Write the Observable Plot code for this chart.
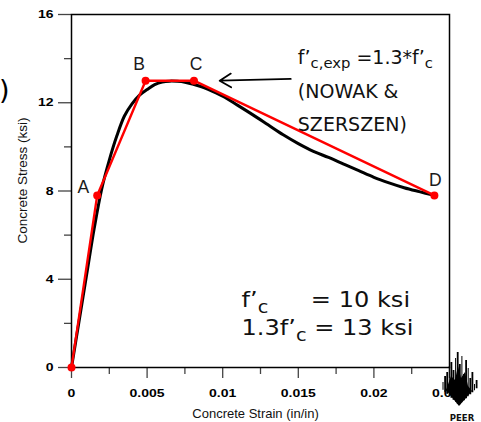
<!DOCTYPE html>
<html>
<head>
<meta charset="utf-8">
<script src="https://cdn.jsdelivr.net/npm/d3@7"></script>
<script src="https://cdn.jsdelivr.net/npm/@observablehq/plot@0.6"></script>
<style>
  body { margin: 0; background: #fff; }
  #chart svg { display: block; }
</style>
</head>
<body>
<div id="chart"></div>
<script>
// Stress–strain curve of confined concrete (ksi vs in/in)
const curveStrain = [0, 0.0005, 0.001, 0.0015, 0.002, 0.0025, 0.003, 0.0035, 0.004, 0.0045,
  0.005, 0.0055, 0.006, 0.0065, 0.007, 0.0075, 0.008, 0.0085, 0.009, 0.010, 0.011, 0.012,
  0.013, 0.014, 0.015, 0.016, 0.017, 0.018, 0.019, 0.020, 0.021, 0.022, 0.023, 0.024];
const curveStress = [0, 2.1, 4.2, 6.3, 8.1, 9.4, 10.5, 11.4, 11.95, 12.35,
  12.6, 12.82, 12.94, 12.98, 12.97, 12.93, 12.85, 12.75, 12.62, 12.3, 11.88, 11.45,
  11.0, 10.55, 10.15, 9.8, 9.52, 9.22, 8.92, 8.62, 8.37, 8.15, 7.97, 7.8];

// Multilinear approximation with its corner points
const pointNames = ["", "A", "B", "C", "D"];
const pointStrain = [0, 0.0017, 0.0049, 0.0081, 0.0240];
const pointStress = [0, 7.8, 13.0, 13.0, 7.8];

// Axes
const xMajorTicks = [0, 0.005, 0.01, 0.015, 0.02, 0.025];
const xTickLabels = ["0", "0.005", "0.01", "0.015", "0.02", "0.025"];
const xMinorTicks = [0.0025, 0.0075, 0.0125, 0.0175, 0.0225];
const yMajorTicks = [0, 4, 8, 12, 16];
const yMinorTicks = [2, 6, 10, 14];
const xTitle = "Concrete Strain (in/in)";
const yTitle = "Concrete Stress (ksi)";

// Strengths
const fc = 10;      // ksi
const fcExp = 13;   // ksi (1.3 f'c)

// Annotation anchors, in data units
const arrowFrom = [0.0145, 13.08];
const arrowTo = [0.0098, 13.0];
const noteAnchor = [0.0150, 13.72];
const strengthAnchor = [0.01128, 2.73];

const curve = curveStrain.map((s, i) => ({strain: s, stress: curveStress[i]}));
const points = pointStrain.map((s, i) => ({name: pointNames[i], strain: s, stress: pointStress[i]}));
const named = (n) => points.filter((p) => p.name === n);

const letterStyle = {x: "strain", y: "stress", text: "name", fontSize: 17.5, fill: "#1a1a1a", ariaLabel: "point-label"};

const plot = Plot.plot({
  width: 481,
  height: 422,
  marginLeft: 71,
  marginRight: 32,
  marginTop: 14,
  marginBottom: 55,
  style: {background: "#fff", fontFamily: "'Liberation Sans', Arial, sans-serif", overflow: "visible"},
  x: {domain: [0, 0.025]},
  y: {domain: [0, 16]},
  marks: [
    Plot.axisX(xMinorTicks, {tickSize: 7, tickFormat: () => "", stroke: "#444", strokeWidth: 1.3}),
    Plot.axisX(xMajorTicks, {
      tickSize: 11, tickPadding: 10, stroke: "#444", strokeWidth: 1.3, fill: "#000",
      tickFormat: (d) => xTickLabels[xMajorTicks.indexOf(d)],
      fontSize: 11.5, fontWeight: "bold", label: null
    }),
    Plot.axisY(yMinorTicks, {tickSize: 7, tickFormat: () => "", stroke: "#444", strokeWidth: 1.3}),
    Plot.axisY(yMajorTicks, {
      tickSize: 13, tickPadding: 5, stroke: "#444", strokeWidth: 1.3, fill: "#000",
      tickFormat: (d) => String(d), fontSize: 11.5, fontWeight: "bold", label: null
    }),
    Plot.frame({stroke: "#000", strokeWidth: 1.5}),
    Plot.line(curve, {x: "strain", y: "stress", stroke: "#000", strokeWidth: 3, curve: "catmull-rom"}),
    Plot.line(points, {x: "strain", y: "stress", stroke: "#ff0000", strokeWidth: 2.4}),
    Plot.dot(points, {x: "strain", y: "stress", fill: "#ff0000", r: 4}),
    Plot.text(named("A"), {...letterStyle, textAnchor: "end", dx: -8, dy: -8}),
    Plot.text(named("B"), {...letterStyle, dx: -6.5, dy: -16}),
    Plot.text(named("C"), {...letterStyle, dx: 2, dy: -16}),
    Plot.text(named("D"), {...letterStyle, dx: 1, dy: -15}),
    Plot.arrow([{x1: arrowFrom[0], y1: arrowFrom[1], x2: arrowTo[0], y2: arrowTo[1]}], {
      x1: "x1", y1: "y1", x2: "x2", y2: "y2", stroke: "#000", strokeWidth: 1.8, headLength: 11, headAngle: 62
    }),
    Plot.text([xTitle], {frameAnchor: "bottom", textAnchor: "middle", lineAnchor: "bottom", dx: -5, dy: 50, fontSize: 13, fill: "#111", ariaLabel: "x-title"}),
    Plot.text([yTitle], {frameAnchor: "left", textAnchor: "middle", lineAnchor: "bottom", rotate: -90, dx: -44.5, dy: -10.5, fontSize: 13.5, fill: "#111", ariaLabel: "y-title"})
  ]
});

document.getElementById("chart").append(plot);

// Widen glyphs horizontally (along the reading direction)
function widen(selection, k) {
  selection.each(function () {
    const t = this.getAttribute("transform") || "";
    const xAttr = this.getAttribute("x");
    let extra = "";
    if (xAttr && !isNaN(+xAttr)) { extra = ` translate(${+xAttr},0)`; this.removeAttribute("x"); }
    this.setAttribute("transform", `${t}${extra} scale(${k},1)`);
  });
}
const svg = d3.select(plot);
widen(svg.selectAll('g[aria-label="x-axis tick label"] text'), 1.22);
widen(svg.selectAll('g[aria-label="y-axis tick label"] text'), 1.22);
widen(svg.selectAll('g[aria-label="x-title"] text'), 1.2);
widen(svg.selectAll('g[aria-label="y-title"] text'), 1.08);
widen(svg.selectAll('g[aria-label="point-label"] text'), 1.1);

// Rich text (subscripts) placed through the chart's scales
const sx = plot.scale("x"), sy = plot.scale("y");
function richText(parent, px, py, parts, size, subScale, subShift, k = 1) {
  const t = parent.append("text")
    .attr("transform", `translate(${px},${py}) scale(${k},1)`)
    .attr("text-anchor", "start")
    .attr("font-family", "'DejaVu Sans', Verdana, sans-serif")
    .attr("font-size", size)
    .attr("fill", "#111");
  let shift = 0;
  parts.forEach(([str, sub, atX]) => {
    const target = sub ? subShift : 0;
    const ts = t.append("tspan")
      .attr("font-size", sub ? size * subScale : size)
      .attr("dy", target - shift)
      .text(str);
    if (atX !== undefined) ts.attr("x", atX);
    shift = target;
  });
  return t;
}

const notes = svg.append("g").attr("aria-label", "annotations").attr("text-anchor", "start");
const nx = sx.apply(noteAnchor[0]), ny = sy.apply(noteAnchor[1]);
richText(notes, nx, ny, [["f’"], ["c,exp", true], [" =1.3*f’"], ["c", true]], 19, 0.78, 4);
richText(notes, nx, ny + 33.5, [["(NOWAK &"]], 19, 0.78, 4);
richText(notes, nx, ny + 67, [["SZERSZEN)"]], 19, 0.78, 4);

const bx = sx.apply(strengthAnchor[0]), by = sy.apply(strengthAnchor[1]);
const line2 = richText(notes, bx, by + 28.3, [["1.3f’"], ["c", true], [` = ${fcExp} ksi`]], 21.5, 0.8, 6, 1.12);
const eqX = line2.node().getStartPositionOfChar(7).x;
richText(notes, bx, by, [["f’"], ["c", true], [`= ${fc} ksi`, false, eqX - 3]], 21.5, 0.8, 6, 1.12);

// Edge of a bracket from the surrounding page
svg.append("text")
  .attr("transform", "translate(-1,99)")
  .attr("text-anchor", "start")
  .attr("font-family", "'DejaVu Sans', sans-serif")
  .attr("font-size", 27)
  .attr("fill", "#000")
  .text(")");

// PEER logo
const logo = svg.append("g").attr("aria-label", "PEER logo");
const strokeTops = [382, 376, 372, 366, 362, 370, 358, 352, 364, 356, 374, 360, 368, 378, 372, 384, 380];
strokeTops.forEach((top, i) => {
  const x = 443 + i * 2.1;
  const bottom = 405 - Math.abs(x - 459) * 0.95;
  logo.append("line").attr("x1", x).attr("x2", x).attr("y1", top).attr("y2", bottom)
    .attr("stroke", "#000").attr("stroke-width", i % 3 === 0 ? 1 : 1.8);
});
logo.append("path")
  .attr("d", "M446,390 L451,376 L455,380 L458,366 L461,378 L465,372 L468,386 L472,391 L459,406 Z")
  .attr("fill", "#000");
logo.append("text")
  .attr("x", 462).attr("y", 421)
  .attr("text-anchor", "middle")
  .attr("font-family", "'DejaVu Sans Condensed', 'DejaVu Sans', sans-serif")
  .attr("font-weight", "bold")
  .attr("font-size", 9.5)
  .attr("fill", "#111")
  .text("PEER");
</script>
</body>
</html>
